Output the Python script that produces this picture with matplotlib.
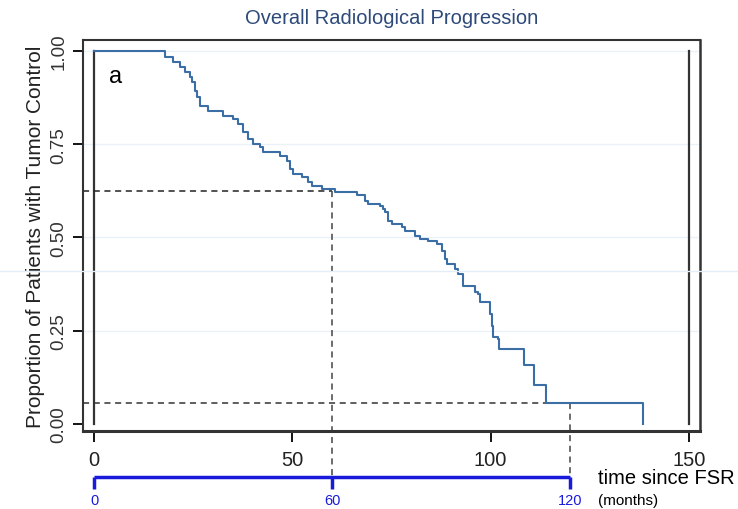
import numpy as np
import matplotlib.pyplot as plt
from matplotlib.lines import Line2D

plt.rcParams['font.family'] = ['Liberation Sans Narrow', 'Liberation Sans', 'DejaVu Sans']

# Kaplan-Meier steps: survival becomes surv[i] at months[i]
months = [0, 17.9, 19.9, 21.7, 22.9, 24.2, 24.7, 25.5, 26.0, 26.7, 28.7, 32.5,
          35.0, 36.3, 37.6, 38.8, 40.1, 41.8, 42.6, 46.9, 48.7, 49.4, 50.2, 52.4,
          53.9, 55.0, 57.5, 60.8, 66.3, 68.3, 69.1, 72.1, 72.9, 73.4, 74.1, 75.1,
          77.6, 78.4, 80.9, 82.2, 84.2, 86.5, 87.7, 88.5, 89.0, 91.0, 91.8, 93.0,
          96.0, 96.8, 97.3, 99.8, 100.3, 100.6, 101.8, 102.1, 108.4, 110.9, 113.9,
          138.4]
surv = [1.0, 0.985, 0.970, 0.957, 0.944, 0.930, 0.917, 0.893, 0.877, 0.853,
        0.839, 0.826, 0.818, 0.804, 0.783, 0.764, 0.751, 0.743, 0.729, 0.718,
        0.705, 0.684, 0.670, 0.662, 0.649, 0.638, 0.630, 0.622, 0.614, 0.598,
        0.590, 0.584, 0.576, 0.568, 0.544, 0.536, 0.528, 0.517, 0.504, 0.496,
        0.491, 0.483, 0.464, 0.442, 0.429, 0.416, 0.402, 0.370, 0.354, 0.349,
        0.327, 0.295, 0.263, 0.233, 0.228, 0.201, 0.158, 0.105, 0.056, 0.0]

yticks = [0.0, 0.25, 0.5, 0.75, 1.0]
xticks = [0, 50, 100, 150]
month_ticks = [0, 60, 120]
ref_times = [60, 120]
ref_surv = [0.625, 0.056]

fig = plt.figure(figsize=(7.38, 5.10), dpi=100)
ax = fig.add_axes([0.1125, 0.153, 0.836, 0.7666])
ax.set_xlim(-2.77, 152.8)
ax.set_ylim(-0.019, 1.0295)

# faint stray line across the figure
fig.add_artist(Line2D([0, 1], [0.467, 0.467], transform=fig.transFigure,
                      color='#e4eef8', lw=1))

for g in yticks[1:]:
    ax.axhline(g, color='#eaf1f8', lw=1, zorder=0)

# plot region boundaries
ax.plot([0, 0], [0, 1], color='#333333', lw=1.6)
ax.plot([150, 150], [0, 1], color='#333333', lw=1.6)

ax.step(months, surv, where='post', color='#3a6ea5', lw=1.5, zorder=3)

# reference dashed lines
xl = ax.get_xlim()[0]
ax.plot([xl, ref_times[0]], [ref_surv[0], ref_surv[0]], ls='--', color='#222222',
        lw=1.1, dashes=(4, 3))
ax.plot([xl, ref_times[1]], [ref_surv[1], ref_surv[1]], ls='--', color='#333333',
        lw=1.1, dashes=(4, 3))
trans = ax.get_xaxis_transform()
for t, s in zip(ref_times, ref_surv):
    y0 = (s - ax.get_ylim()[0]) / (ax.get_ylim()[1] - ax.get_ylim()[0])
    ax.plot([t, t], [y0, -0.118], transform=trans, ls='--', color='#444444',
            lw=1.1, dashes=(4, 3), clip_on=False)

# months scale below the axis
ax.plot([month_ticks[0], month_ticks[-1]], [-0.118, -0.118], transform=trans,
        color='#1a1adc', lw=2.5, clip_on=False, solid_capstyle='butt')
for m in month_ticks:
    ax.plot([m, m], [-0.118, -0.148], transform=trans, color='#1a1adc', lw=2.5,
            clip_on=False, solid_capstyle='butt')
    ax.text(m, -0.176, str(m), transform=trans, color='#1a1adc', fontsize=10.5,
            ha='center', va='center')
ax.text(0.835, -0.118, 'time since FSR', transform=ax.transAxes, fontsize=14.5,
        ha='left', va='center')
ax.text(0.835, -0.176, '(months)', transform=ax.transAxes, fontsize=11,
        ha='left', va='center')

ax.set_yticks(yticks)
ax.set_yticklabels(['%.2f' % v for v in yticks], rotation=90, va='center',
                   fontsize=13.5, color='#333333')
ax.set_xticks(xticks)
ax.set_xticklabels([str(v) for v in xticks], fontsize=14.5, color='#222222')
ax.tick_params(axis='y', length=7, width=1.3, direction='out', pad=4)
ax.tick_params(axis='x', length=8, width=1.3, direction='out', pad=6)

for sp in ax.spines.values():
    sp.set_color('#333333')
    sp.set_linewidth(1.5)
ax.spines['bottom'].set_linewidth(2.2)
ax.spines['right'].set_linewidth(1.8)

ax.set_ylabel('Proportion of Patients with Tumor Control', fontsize=15,
              color='#222222', labelpad=4)
ax.text(0.052, 0.908, 'a', transform=ax.transAxes, fontsize=17, ha='center',
        va='center')
fig.text(0.53, 0.964, 'Overall Radiological Progression', fontsize=14.5,
         color='#2d4a7a', ha='center', va='center')

fig.savefig('out.png', dpi=100)
